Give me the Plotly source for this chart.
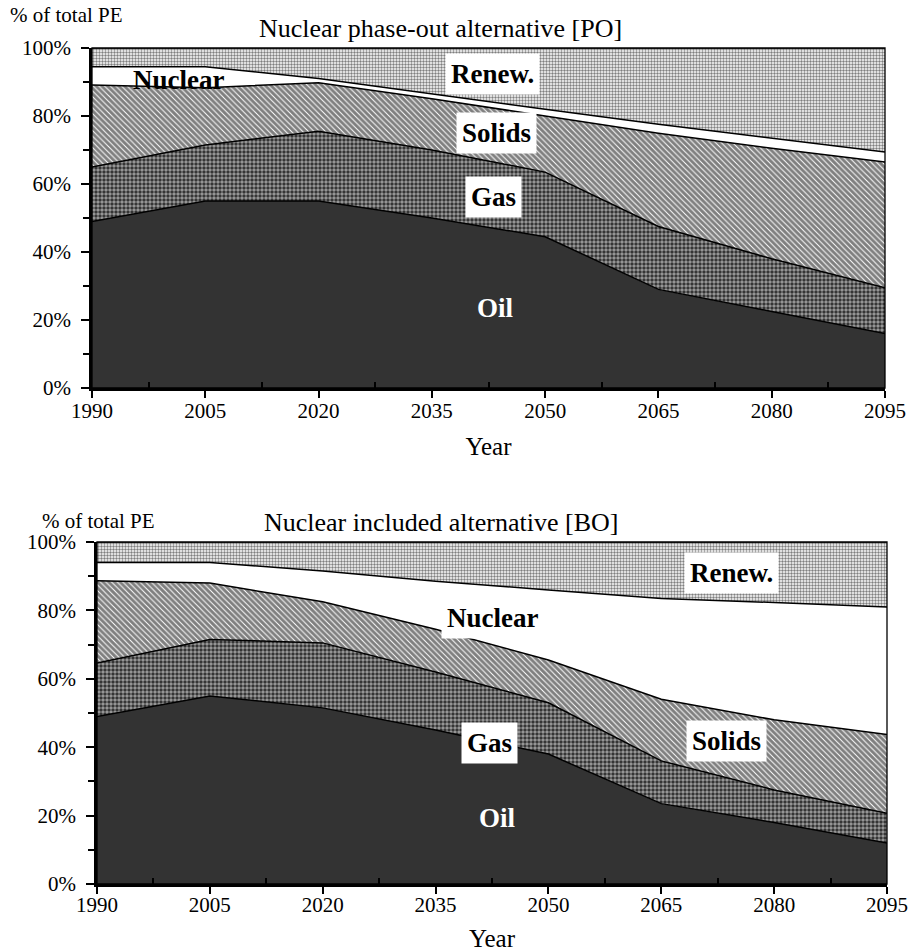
import plotly.graph_objects as go

years = [1990, 2005, 2020, 2035, 2050, 2065, 2080, 2095]
x_ticks = [1990, 2005, 2020, 2035, 2050, 2065, 2080, 2095]
y_ticks = [0, 20, 40, 60, 80, 100]
y_tick_text = ["0%", "20%", "40%", "60%", "80%", "100%"]

# Nuclear phase-out alternative [PO] (% of total primary energy)
po_oil = [49.0, 55.0, 55.0, 50.0, 44.5, 29.0, 22.5, 16.0]
po_gas = [16.0, 16.5, 20.5, 20.0, 19.0, 18.5, 15.5, 13.5]
po_solids = [24.1, 16.8, 14.3, 15.1, 16.5, 27.4, 32.5, 37.0]
po_nuclear = [5.4, 6.2, 1.2, 1.3, 2.0, 2.7, 3.0, 2.9]
po_renew = [5.5, 5.5, 9.0, 13.6, 18.0, 22.4, 26.5, 30.6]

# Nuclear included alternative [BO]
bo_oil = [49.0, 55.0, 51.5, 45.0, 38.0, 23.5, 18.0, 12.0]
bo_gas = [15.6, 16.5, 19.0, 17.0, 15.0, 12.5, 9.5, 8.7]
bo_solids = [24.1, 16.5, 12.0, 12.5, 12.5, 18.0, 20.5, 23.0]
bo_nuclear = [5.3, 6.0, 9.0, 14.0, 20.5, 29.5, 34.3, 37.3]
bo_renew = [6.0, 6.0, 8.5, 11.5, 14.0, 16.5, 17.7, 19.0]

W, H = 909, 952
FONT = "Liberation Serif"


def px(x):
    return x / W


def py(y):
    return 1 - y / H


styles = {
    "Oil": dict(fillcolor="#333333", fillpattern=None),
    "Gas": dict(fillcolor="#333333", fillpattern=dict(shape=".", size=4, solidity=0.6, fgcolor="white", bgcolor="#2a2a2a")),
    "Solids": dict(fillcolor="white", fillpattern=dict(shape="\\", size=4, solidity=0.75, fgcolor="#000000", bgcolor="white")),
    "Nuclear": dict(fillcolor="white", fillpattern=None),
    "Renew.": dict(fillcolor="white", fillpattern=dict(shape=".", size=3, solidity=0.5, fgcolor="#000000", bgcolor="white")),
}

fig = go.Figure()


def add_stack(series, xa, ya, group):
    for name, vals in series:
        st = styles[name]
        kw = dict(x=years, y=vals, name=name, mode="lines", stackgroup=group,
                  line=dict(color="black", width=1.5), fillcolor=st["fillcolor"],
                  xaxis=xa, yaxis=ya, showlegend=False, hoverinfo="skip")
        if st["fillpattern"] is not None:
            kw["fillpattern"] = st["fillpattern"]
        fig.add_trace(go.Scatter(**kw))


add_stack([("Oil", po_oil), ("Gas", po_gas), ("Solids", po_solids),
           ("Nuclear", po_nuclear), ("Renew.", po_renew)], "x", "y", "po")
add_stack([("Oil", bo_oil), ("Gas", bo_gas), ("Solids", bo_solids),
           ("Nuclear", bo_nuclear), ("Renew.", bo_renew)], "x2", "y2", "bo")


def xaxis_style(standoff, labelshift):
    return dict(range=[1990, 2095], tickmode="array", tickvals=x_ticks, ticks="outside", ticklen=7, tickwidth=2,
                tickcolor="black", showline=True, linewidth=2.5, linecolor="black",
                showgrid=False, zeroline=False, automargin=False, ticklabelstandoff=labelshift,
                tickfont=dict(family=FONT, size=21, color="black"),
                minor=dict(ticks="inside", ticklen=6, tickwidth=2, tickcolor="black", tick0=1997.5, dtick=15),
                title=dict(text="Year", font=dict(family=FONT, size=25, color="black"), standoff=standoff))


ycommon = dict(range=[0, 100], tickmode="array", tickvals=y_ticks, ticktext=y_tick_text,
               ticks="outside", ticklen=8, tickwidth=2,
               tickcolor="black", showline=True, linewidth=2.5, linecolor="black",
               showgrid=False, zeroline=False, automargin=False, ticklabelstandoff=6,
               tickfont=dict(family=FONT, size=21, color="black"),
               minor=dict(ticks="outside", ticklen=6, tickwidth=2, tickcolor="black", tick0=10, dtick=20))

fig.update_layout(
    width=W, height=H,
    margin=dict(l=0, r=0, t=0, b=0, autoexpand=False),
    paper_bgcolor="white", plot_bgcolor="white",
    xaxis=dict(domain=[px(92), px(885)], anchor="y", **xaxis_style(16, -5)),
    yaxis=dict(domain=[py(388), py(48)], anchor="x", **ycommon),
    xaxis2=dict(domain=[px(97), px(887)], anchor="y2", **xaxis_style(31, -7)),
    yaxis2=dict(domain=[py(884), py(542)], anchor="x2", **ycommon),
)

# thin frame on top/right
for xr, yr in [("x domain", "y domain"), ("x2 domain", "y2 domain")]:
    fig.add_shape(type="rect", xref=xr, yref=yr, x0=0, x1=1, y0=0, y1=1,
                  line=dict(color="black", width=1.3), fillcolor="rgba(0,0,0,0)", layer="above")

# titles and unit labels
fig.add_annotation(text="Nuclear phase-out alternative [PO]", xref="paper", yref="paper",
                   x=px(440), y=py(28), showarrow=False, xanchor="center", yanchor="middle",
                   font=dict(family=FONT, size=26, color="black"))
fig.add_annotation(text="Nuclear included alternative [BO]", xref="paper", yref="paper",
                   x=px(441), y=py(522), showarrow=False, xanchor="center", yanchor="middle",
                   font=dict(family=FONT, size=26, color="black"))
fig.add_annotation(text="% of total PE", xref="paper", yref="paper",
                   x=px(8), y=py(15), showarrow=False, xanchor="left", yanchor="middle",
                   font=dict(family=FONT, size=21, color="black"))
fig.add_annotation(text="% of total PE", xref="paper", yref="paper",
                   x=px(40), y=py(521), showarrow=False, xanchor="left", yanchor="middle",
                   font=dict(family=FONT, size=21, color="black"))


def label(text, x, y, xa, ya, box=True, color="black"):
    fig.add_annotation(text="<b>%s</b>" % text, x=x, y=y, xref=xa, yref=ya, showarrow=False,
                       xanchor="center", yanchor="middle",
                       font=dict(family=FONT, size=27, color=color),
                       bgcolor="white" if box else None, borderpad=5)


label("Nuclear", 2001.4, 90.6, "x", "y", box=False)
label("Renew.", 2043.0, 92.4, "x", "y")
label("Solids", 2043.5, 75.0, "x", "y")
label("Gas", 2043.2, 56.3, "x", "y")
label("Oil", 2043.4, 23.5, "x", "y", box=False, color="white")

label("Renew.", 2074.3, 91.0, "x2", "y2")
label("Nuclear", 2042.6, 77.8, "x2", "y2")
label("Gas", 2042.2, 41.3, "x2", "y2")
label("Solids", 2073.7, 41.8, "x2", "y2")
label("Oil", 2043.2, 19.3, "x2", "y2", box=False, color="white")

# remove the default 8px page margin so the figure fills the window exactly
fig.write_html("out.html", config={"displayModeBar": False},
               post_script="document.body.style.margin='0';document.body.style.overflow='hidden';")
